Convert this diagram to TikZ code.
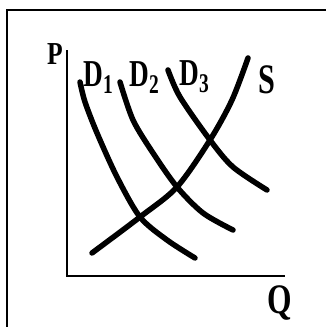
\documentclass[tikz,border=0pt]{standalone}
\usepackage{fontspec}
\setmainfont{Liberation Serif}
\begin{document}
\begin{tikzpicture}[x=1pt,y=-1pt,
  curve/.style={line width=5.5pt,line cap=round,line join=round},
  axis/.style={line width=2.8pt},
  frame/.style={line width=1.6pt},
  lbl/.style={inner sep=0pt}]
\useasboundingbox (0,0) rectangle (326,327);
% frame
\coordinate (f1) at (326,10);
\coordinate (f2) at (7,10);
\coordinate (f3) at (7,327);
\draw[frame] (f1) -- (f2) -- (f3);
% axes
\coordinate (top) at (67,50);
\coordinate (o) at (67,276);
\coordinate (right) at (285,276);
\draw[axis] (top) -- (o) -- (right);
% curves
\draw[curve] plot[smooth] coordinates {(80,82) (85,102) (97,133) (117,177) (140,217) (167,240) (195,258)};
\draw[curve] plot[smooth] coordinates {(120,82) (133,120) (153,153) (177,187) (203,213) (233,230)};
\draw[curve] plot[smooth] coordinates {(168,70) (180,97) (210,140) (233,167) (267,190)};
\draw[curve] plot[smooth] coordinates {(92,253) (140,217) (177,187) (210,140) (232,100) (248,58)};
% labels
\node[lbl] (P) at (55,54) {\scalebox{0.8}[1]{\fontsize{32}{32}\bfseries\selectfont P}};
\node[lbl] (Q) at (280,303) {\scalebox{0.75}[1]{\fontsize{42}{42}\bfseries\selectfont Q}};
\node[lbl] (S) at (267,80) {\scalebox{0.72}[1]{\fontsize{42}{42}\bfseries\selectfont S}};
\node[lbl] (D1) at (98,78) {\scalebox{0.72}[1]{\fontsize{38}{38}\bfseries\selectfont D\raisebox{-7pt}{\fontsize{27}{27}\selectfont 1}}};
\node[lbl] (D2) at (144,78) {\scalebox{0.72}[1]{\fontsize{38}{38}\bfseries\selectfont D\raisebox{-7pt}{\fontsize{27}{27}\selectfont 2}}};
\node[lbl] (D3) at (194,77) {\scalebox{0.72}[1]{\fontsize{38}{38}\bfseries\selectfont D\raisebox{-7pt}{\fontsize{27}{27}\selectfont 3}}};
\end{tikzpicture}
\end{document}
